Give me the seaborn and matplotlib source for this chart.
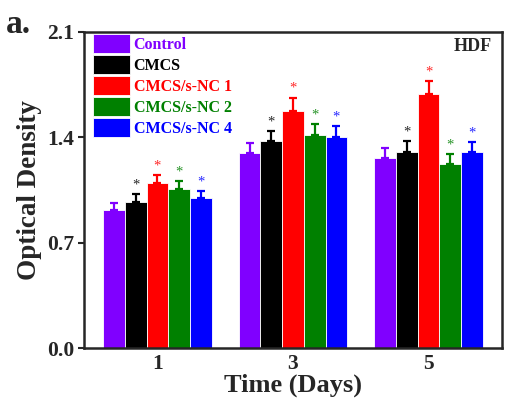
import numpy as np
import pandas as pd
import matplotlib
matplotlib.use('Agg')
import matplotlib.pyplot as plt
import seaborn as sns

days = ['1', '3', '5']
groups = ['Control', 'CMCS', 'CMCS/s-NC 1', 'CMCS/s-NC 2', 'CMCS/s-NC 4']
colors = ['#8000ff', '#000000', '#ff0000', '#008000', '#0000ff']

# optical density per group, one value per day
od_control = [0.916, 1.294, 1.261]
od_cmcs = [0.969, 1.374, 1.300]
od_nc1 = [1.095, 1.575, 1.685]
od_nc2 = [1.055, 1.413, 1.221]
od_nc4 = [0.995, 1.400, 1.300]

err_control = [0.047, 0.067, 0.067]
err_cmcs = [0.054, 0.067, 0.074]
err_nc1 = [0.054, 0.087, 0.087]
err_nc2 = [0.054, 0.074, 0.067]
err_nc4 = [0.047, 0.074, 0.067]

star = [False, True, True, True, True]

values = [od_control, od_cmcs, od_nc1, od_nc2, od_nc4]
errors = [err_control, err_cmcs, err_nc1, err_nc2, err_nc4]

df = pd.DataFrame([(d, g, values[i][j]) for i, g in enumerate(groups)
                   for j, d in enumerate(days)], columns=['day', 'group', 'od'])

sns.set_style('ticks')
plt.rcParams['font.family'] = ['Liberation Serif', 'DejaVu Serif']
plt.rcParams['font.weight'] = 'bold'

fig = plt.figure(figsize=(5.26, 4.03), dpi=100)
ax = fig.add_axes([0.160, 0.136, 0.794, 0.785])

sns.barplot(data=df, x='day', y='od', hue='group', order=days, hue_order=groups,
            palette=dict(zip(groups, colors)), errorbar=None, width=0.8,
            edgecolor='white', linewidth=0.6, saturation=1, ax=ax)

bar_sets = list(ax.containers)
for i, cont in enumerate(bar_sets):
    xs = [p.get_x() + p.get_width() / 2 for p in cont]
    hs = [p.get_height() for p in cont]
    ax.errorbar(xs, hs, yerr=[np.zeros(3), errors[i]], fmt='none', ecolor=colors[i],
                elinewidth=1.6, capsize=3.2, capthick=1.6)
    if star[i]:
        for x, h, e in zip(xs, hs, errors[i]):
            ax.text(x, h + e + 0.02, '*', color=colors[i], ha='center', va='bottom',
                    fontsize=10.5, fontweight='normal', alpha=0.85)

ax.set_ylim(0, 2.1)
ax.set_yticks([0.0, 0.7, 1.4, 2.1])
ax.set_yticklabels(['0.0', '0.7', '1.4', '2.1'])
ax.tick_params(axis='y', direction='out', length=4, width=1.5, pad=3, labelsize=15.5)
ax.tick_params(axis='x', length=0, pad=4, labelsize=15.5)
for s in ax.spines.values():
    s.set_visible(True)
    s.set_linewidth(1.8)
ax.set_xlabel('Time (Days)', fontsize=19, fontweight='bold', labelpad=0)
ax.set_ylabel('Optical Density', fontsize=19.5, fontweight='bold', labelpad=4)

leg = ax.legend(loc='upper left', bbox_to_anchor=(0.021, 0.994), frameon=False,
                borderpad=0, borderaxespad=0, handlelength=2.3, handleheight=1.46,
                labelspacing=0.12, handletextpad=0.25,
                prop={'family': 'Liberation Serif', 'weight': 'bold', 'size': 11.5})
for t, c in zip(leg.get_texts(), colors):
    t.set_color(c)

ax.text(0.976, 0.98, 'HDF', transform=ax.transAxes, ha='right', va='top',
        fontsize=13, fontweight='bold')
fig.text(0.012, 0.918, 'a.', fontsize=24, fontweight='bold', ha='left', va='baseline')

fig.savefig('out.png', dpi=100)
